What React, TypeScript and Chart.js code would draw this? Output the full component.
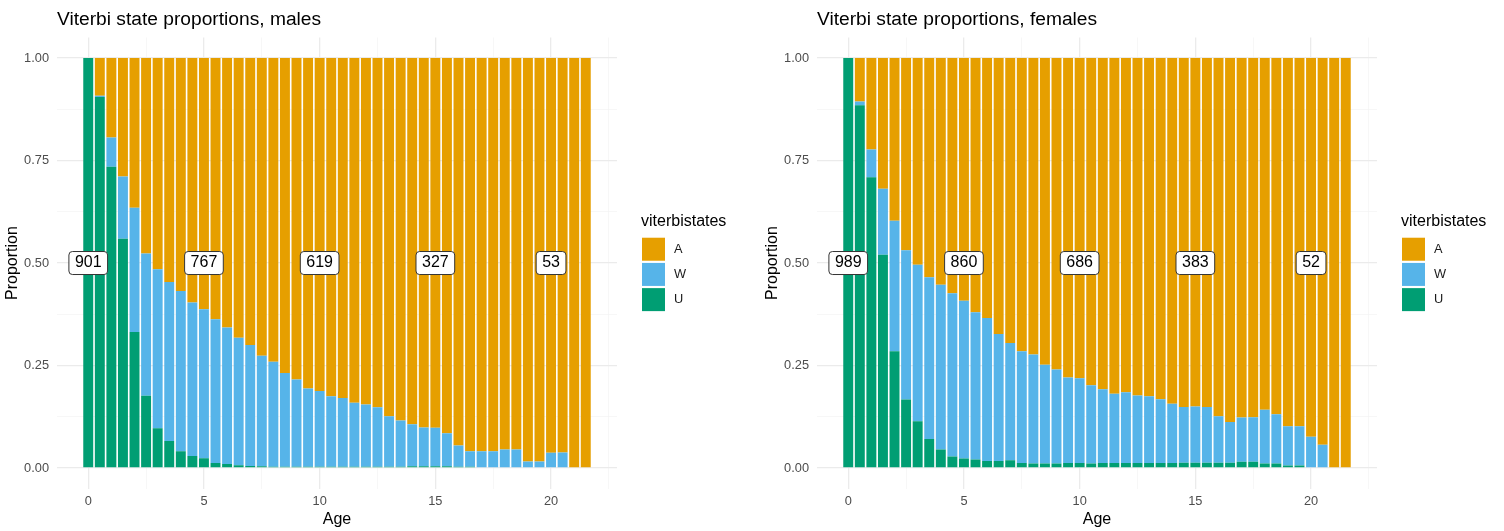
import React, { useEffect, useRef } from 'react';
import { Chart, registerables } from 'chart.js';

Chart.register(...registerables);

const FONT = "'Liberation Sans', Arial, Helvetica, sans-serif";

// Ages (x categories), step 0.5
const ages = [
  0, 0.5, 1, 1.5, 2, 2.5, 3, 3.5, 4, 4.5, 5, 5.5, 6, 6.5, 7, 7.5, 8, 8.5, 9, 9.5, 10, 10.5,
  11, 11.5, 12, 12.5, 13, 13.5, 14, 14.5, 15, 15.5, 16, 16.5, 17, 17.5, 18, 18.5, 19, 19.5, 20, 20.5,
  21, 21.5,
];

const stateNames = ['U', 'W', 'A'];
const stateColors = ['#009E73', '#56B4E9', '#E69F00'];

// Males
const maleU = [
  1.0, 0.905, 0.735, 0.559, 0.332, 0.176, 0.097, 0.066, 0.041, 0.029, 0.024, 0.012, 0.01, 0.007,
  0.005, 0.004, 0.003, 0.003, 0.003, 0.003, 0.003, 0.003, 0.003, 0.003, 0.003, 0.003, 0.003, 0.003,
  0.004, 0.004, 0.004, 0.004, 0.003, 0.003, 0, 0, 0, 0, 0, 0, 0, 0, 0, 0,
];
const maleW = [
  0, 0.003, 0.071, 0.152, 0.303, 0.347, 0.388, 0.388, 0.391, 0.375, 0.363, 0.351, 0.333, 0.311,
  0.295, 0.27, 0.256, 0.229, 0.213, 0.191, 0.185, 0.172, 0.168, 0.156, 0.152, 0.145, 0.123, 0.113,
  0.103, 0.095, 0.094, 0.081, 0.052, 0.038, 0.041, 0.041, 0.045, 0.045, 0.016, 0.016, 0.037, 0.038,
  0, 0,
];
const maleA = [
  0, 0.092, 0.194, 0.289, 0.365, 0.477, 0.515, 0.546, 0.568, 0.596, 0.613, 0.637, 0.657, 0.682,
  0.7, 0.726, 0.741, 0.768, 0.784, 0.806, 0.812, 0.825, 0.829, 0.841, 0.845, 0.852, 0.874, 0.884,
  0.893, 0.901, 0.902, 0.915, 0.945, 0.959, 0.959, 0.959, 0.955, 0.955, 0.984, 0.984, 0.963, 0.962,
  1, 1,
];

// Females
const femaleU = [
  1.0, 0.885, 0.709, 0.52, 0.285, 0.167, 0.114, 0.071, 0.045, 0.028, 0.023, 0.021, 0.017, 0.017,
  0.019, 0.012, 0.011, 0.011, 0.011, 0.012, 0.012, 0.011, 0.012, 0.012, 0.012, 0.012, 0.012, 0.012,
  0.012, 0.013, 0.013, 0.013, 0.013, 0.013, 0.015, 0.015, 0.011, 0.011, 0.006, 0.006, 0, 0, 0, 0,
];
const femaleW = [
  0, 0.009, 0.068, 0.161, 0.318, 0.364, 0.382, 0.394, 0.402, 0.398, 0.385, 0.359, 0.349, 0.31,
  0.286, 0.273, 0.266, 0.241, 0.229, 0.209, 0.207, 0.191, 0.18, 0.169, 0.173, 0.165, 0.163, 0.156,
  0.145, 0.136, 0.137, 0.136, 0.113, 0.099, 0.108, 0.109, 0.131, 0.12, 0.096, 0.096, 0.076, 0.057,
  0, 0,
];
const femaleA = [
  0, 0.106, 0.223, 0.319, 0.397, 0.469, 0.504, 0.535, 0.553, 0.574, 0.592, 0.62, 0.634, 0.673,
  0.695, 0.715, 0.723, 0.748, 0.76, 0.779, 0.781, 0.798, 0.808, 0.819, 0.815, 0.823, 0.825, 0.832,
  0.843, 0.851, 0.85, 0.851, 0.874, 0.888, 0.877, 0.876, 0.858, 0.869, 0.898, 0.898, 0.924, 0.943,
  1, 1,
];

// Count labels
const labelAges = [0, 5, 10, 15, 20];
const maleCounts = [901, 767, 619, 327, 53];
const femaleCounts = [989, 860, 686, 383, 52];

// Ticks
const xMajorTicks = [0, 5, 10, 15, 20];
const xTickLabels = ['0', '5', '10', '15', '20'];
const xMinorTicks = [2.5, 7.5, 12.5, 17.5, 22.5];
const yMajorTicks = [0, 0.25, 0.5, 0.75, 1];
const yTickLabels = ['0.00', '0.25', '0.50', '0.75', '1.00'];
const yMinorTicks = [0.125, 0.375, 0.625, 0.875];

const legendTitle = 'viterbistates';

function makeCountPlugin(counts: number[]) {
  return {
    id: 'countLabels',
    afterDatasetsDraw(chart: any) {
      const { ctx } = chart;
      const xs = chart.scales.x;
      const ys = chart.scales.y;
      ctx.save();
      ctx.font = `16px ${FONT}`;
      ctx.textAlign = 'center';
      ctx.textBaseline = 'middle';
      labelAges.forEach((age, i) => {
        const text = String(counts[i]);
        const px = xs.getPixelForValue(age);
        const py = ys.getPixelForValue(0.5);
        const tw = ctx.measureText(text).width;
        const w = tw + 12;
        const h = 23;
        ctx.beginPath();
        ctx.roundRect(px - w / 2, py - h / 2, w, h, 3.5);
        ctx.fillStyle = '#ffffff';
        ctx.fill();
        ctx.lineWidth = 1;
        ctx.strokeStyle = '#333333';
        ctx.stroke();
        ctx.fillStyle = '#000000';
        ctx.fillText(text, px, py);
      });
      ctx.restore();
    },
  };
}

// Legend drawn from the chart's own datasets (top of stack first)
const legendPlugin = {
  id: 'ggLegend',
  afterDraw(chart: any) {
    const { ctx, chartArea } = chart;
    const left = chartArea.right + 24;
    const cy = (chartArea.top + chartArea.bottom) / 2;
    ctx.save();
    ctx.textAlign = 'left';
    ctx.textBaseline = 'middle';
    ctx.fillStyle = '#000000';
    ctx.font = `16px ${FONT}`;
    ctx.fillText(legendTitle, left, cy - 41.5);
    const items = [...chart.data.datasets].reverse();
    ctx.font = `12.8px ${FONT}`;
    items.forEach((ds: any, k: number) => {
      const top = cy - 25.3 + k * 25.2;
      ctx.fillStyle = ds.backgroundColor;
      ctx.fillRect(left + 1, top, 23, 23);
      ctx.fillStyle = '#1a1a1a';
      ctx.fillText(ds.label, left + 33, top + 11.5);
    });
    ctx.restore();
  },
};

type PanelProps = {
  title: string;
  series: number[][];
  counts: number[];
  width: number;
};

function Panel({ title, series, counts, width }: PanelProps) {
  const ref = useRef<HTMLCanvasElement | null>(null);

  useEffect(() => {
    if (!ref.current) return;
    const datasets = stateNames.map((name, k) => ({
      label: name,
      data: ages.map((a, i) => ({ x: a, y: series[k][i] })),
      backgroundColor: stateColors[k],
      borderWidth: 0,
      barPercentage: 0.86,
      categoryPercentage: 1,
      xAxisID: 'x',
      yAxisID: 'y',
    }));

    const chart = new Chart(ref.current, {
      type: 'bar',
      data: { datasets },
      options: {
        responsive: false,
        animation: false,
        devicePixelRatio: 1,
        layout: { padding: { left: 0, right: 0, top: 0, bottom: 0 } },
        plugins: {
          title: {
            display: true,
            text: title,
            align: 'start',
            fullSize: false,
            color: '#000000',
            font: { family: FONT, size: 19.2, weight: 'normal' },
            padding: { top: 7.8, bottom: 6.7 },
          },
          legend: { display: false },
          tooltip: { enabled: false },
        },
        scales: {
          x: {
            type: 'linear',
            position: 'bottom',
            offset: false,
            min: -1.35,
            max: 22.85,
            stacked: true,
            afterBuildTicks: (s: any) => {
              s.ticks = [...xMajorTicks, ...xMinorTicks]
                .sort((a, b) => a - b)
                .map((v) => ({ value: v }));
            },
            afterFit: (s: any) => {
              s.height = 42.5;
            },
            border: { display: false },
            grid: {
              offset: false,
              drawTicks: false,
              color: (c: any) =>
                c.tick && xMajorTicks.includes(c.tick.value) ? '#ebebeb' : '#f3f3f3',
              lineWidth: (c: any) => (c.tick && xMajorTicks.includes(c.tick.value) ? 1.3 : 0.7),
            },
            ticks: {
              autoSkip: false,
              maxRotation: 0,
              padding: 5.5,
              color: '#4d4d4d',
              font: { family: FONT, size: 12.8 },
              callback: (v: any) => {
                const i = xMajorTicks.indexOf(Number(v));
                return i >= 0 ? xTickLabels[i] : '';
              },
            },
            title: {
              display: true,
              text: 'Age',
              color: '#000000',
              font: { family: FONT, size: 16 },
              padding: { top: 0, bottom: 1.4 },
            },
          },
          y: {
            type: 'linear',
            position: 'left',
            min: -0.05,
            max: 1.05,
            stacked: true,
            afterBuildTicks: (s: any) => {
              s.ticks = [...yMajorTicks, ...yMinorTicks]
                .sort((a, b) => a - b)
                .map((v) => ({ value: v }));
            },
            afterFit: (s: any) => {
              s.width = 57;
            },
            border: { display: false },
            grid: {
              drawTicks: false,
              color: (c: any) =>
                c.tick && yMajorTicks.includes(c.tick.value) ? '#ebebeb' : '#f3f3f3',
              lineWidth: (c: any) => (c.tick && yMajorTicks.includes(c.tick.value) ? 1.3 : 0.7),
            },
            ticks: {
              autoSkip: false,
              padding: 8,
              color: '#4d4d4d',
              font: { family: FONT, size: 12.8 },
              callback: (v: any) => {
                const i = yMajorTicks.indexOf(Number(v));
                return i >= 0 ? yTickLabels[i] : '';
              },
            },
            title: {
              display: true,
              text: 'Proportion',
              color: '#000000',
              font: { family: FONT, size: 16 },
              padding: { top: 3.4, bottom: 0 },
            },
          },
          gap: {
            type: 'linear',
            position: 'right',
            display: true,
            border: { display: false },
            grid: { display: false, drawTicks: false },
            ticks: { display: false },
            afterFit: (s: any) => {
              s.width = s.chart.width - 617;
            },
          },
        },
      } as any,
      plugins: [makeCountPlugin(counts), legendPlugin],
    });
    return () => chart.destroy();
  }, []);

  return (
    <canvas
      ref={ref}
      width={width}
      height={531}
      style={{ display: 'block', width: width, height: 531 }}
    />
  );
}

export default function App() {
  return (
    <div
      style={{
        position: 'absolute',
        left: 0,
        top: 0,
        width: 1504,
        height: 531,
        background: '#ffffff',
        overflow: 'hidden',
      }}
    >
      <div style={{ position: 'absolute', left: 0, top: 0 }}>
        <Panel
          title="Viterbi state proportions, males"
          series={[maleU, maleW, maleA]}
          counts={maleCounts}
          width={760}
        />
      </div>
      <div style={{ position: 'absolute', left: 760, top: 0 }}>
        <Panel
          title="Viterbi state proportions, females"
          series={[femaleU, femaleW, femaleA]}
          counts={femaleCounts}
          width={744}
        />
      </div>
    </div>
  );
}
